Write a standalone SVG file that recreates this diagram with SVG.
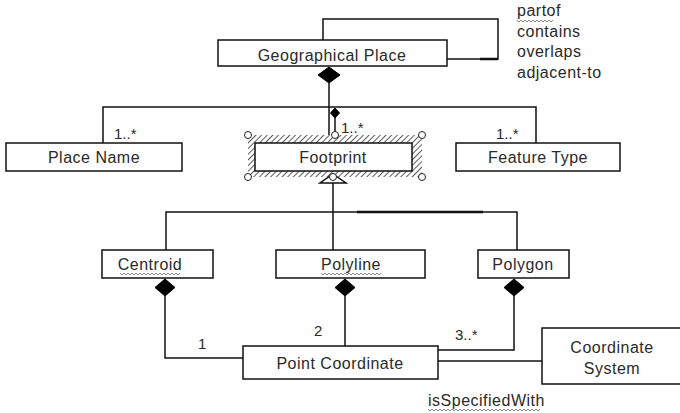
<svg xmlns="http://www.w3.org/2000/svg" width="680" height="413" viewBox="0 0 680 413">
<style>
.box{fill:#fff;stroke:#111;stroke-width:1.5}
.ln{fill:none;stroke:#111;stroke-width:1.5}
.t{font-family:"Liberation Sans",Arial,sans-serif;font-size:16px;fill:#2a2a2a;letter-spacing:0.5px}
.m{font-family:"Liberation Sans",Arial,sans-serif;font-size:15px;fill:#2a2a2a}
.d{fill:#000;stroke:#000;stroke-width:1}
.w{fill:none;stroke:#888;stroke-width:1}
.h{fill:#fff;stroke:#222;stroke-width:1}
</style>
<defs>
<pattern id="hatch" width="4" height="4" patternUnits="userSpaceOnUse" patternTransform="rotate(45)">
<rect width="4" height="4" fill="#fff"/>
<line x1="0" y1="0" x2="0" y2="4" stroke="#333" stroke-width="1.6"/>
</pattern>
</defs>
<g id="connectors">
<path class="ln" d="M323,40 V19 H498 V59 H447"/>
<path d="M480,59 H498" stroke="#111" stroke-width="2.5"/>
<path class="ln" d="M329,83 V135"/>
<path class="ln" d="M335,118 V135"/>
<path class="ln" d="M103,143 V107 H536 V143"/>
<path class="ln" d="M333,183 V250"/>
<path class="ln" d="M166,250 V212 H517 V250"/>
<path d="M357,212 H483" stroke="#111" stroke-width="2.5"/>
<path class="ln" d="M165,296 V358 H243"/>
<path class="ln" d="M345,296 V346"/>
<path class="ln" d="M514,296 V350 H438"/>
<path class="ln" d="M438,361 H542"/>
<polygon class="d" points="329,67 340,75 329,83 318,75"/>
<polygon class="d" points="335,108 339.5,113 335,118 330.5,113"/>
<polygon class="d" points="165,279 175,287.5 165,296 155,287.5"/>
<polygon class="d" points="345,279 355,287.5 345,296 335,287.5"/>
<polygon class="d" points="514,279 524,287.5 514,296 504,287.5"/>
<text class="m" x="114" y="139">1..*</text>
<text class="m" x="496" y="139">1..*</text>
<text class="m" x="198" y="349">1</text>
<text class="m" x="314" y="336">2</text>
<text class="m" x="455" y="340">3..*</text>
<text class="t" x="517" y="16">partof</text>
<path class="w" d="M517,20 l2,2 l2,-2 l2,2 l2,-2 l2,2 l2,-2 l2,2 l2,-2 l2,2 l2,-2 l2,2 l2,-2 l2,2 l2,-2 l2,2 l2,-2 l2,2 l2,-2"/>
<text class="t" x="517" y="37">contains</text>
<text class="t" x="517" y="57">overlaps</text>
<text class="t" x="517" y="78">adjacent-to</text>
<text class="t" x="428" y="406">isSpecifiedWith</text>
<path class="w" d="M428,409 l2,2 l2,-2 l2,2 l2,-2 l2,2 l2,-2 l2,2 l2,-2 l2,2 l2,-2 l2,2 l2,-2 l2,2 l2,-2 l2,2 l2,-2 l2,2 l2,-2 l2,2 l2,-2 l2,2 l2,-2 l2,2 l2,-2 l2,2 l2,-2 l2,2 l2,-2 l2,2 l2,-2 l2,2 l2,-2 l2,2 l2,-2 l2,2 l2,-2 l2,2 l2,-2 l2,2 l2,-2 l2,2 l2,-2 l2,2 l2,-2 l2,2 l2,-2 l2,2 l2,-2 l2,2 l2,-2 l2,2 l2,-2 l2,2 l2,-2 l2,2 l2,-2"/>
</g>
<g id="geographical-place">
<rect class="box" x="218" y="40" width="229" height="26"/>
<text class="t" x="332" y="61" text-anchor="middle">Geographical Place</text>
</g>
<g id="place-name">
<rect class="box" x="6" y="143" width="176" height="28"/>
<text class="t" x="94" y="163" text-anchor="middle">Place Name</text>
</g>
<g id="footprint">
<rect x="248" y="135" width="174" height="42" fill="url(#hatch)"/>
<rect class="box" x="255" y="143" width="157" height="28"/>
<text class="t" x="333" y="163" text-anchor="middle">Footprint</text>
<text class="m" x="341" y="133">1..*</text>
<circle class="h" cx="248" cy="135" r="3.5"/>
<circle class="h" cx="335" cy="135" r="3.5"/>
<circle class="h" cx="422" cy="135" r="3.5"/>
<circle class="h" cx="248" cy="177" r="3.5"/>
<circle class="h" cx="422" cy="177" r="3.5"/>
<polygon class="box" points="333,174 346,183 320,183"/>
<circle class="h" cx="333" cy="177" r="3.5"/>
</g>
<g id="feature-type">
<rect class="box" x="456" y="143" width="164" height="28"/>
<text class="t" x="538" y="163" text-anchor="middle">Feature Type</text>
</g>
<g id="centroid">
<rect class="box" x="102" y="250" width="111" height="28"/>
<text class="t" x="150" y="270" text-anchor="middle">Centroid</text>
<path class="w" d="M120,273 l2,2 l2,-2 l2,2 l2,-2 l2,2 l2,-2 l2,2 l2,-2 l2,2 l2,-2 l2,2 l2,-2 l2,2 l2,-2 l2,2 l2,-2 l2,2 l2,-2 l2,2 l2,-2 l2,2 l2,-2 l2,2 l2,-2 l2,2 l2,-2 l2,2 l2,-2 l2,2 l2,-2"/>
</g>
<g id="polyline">
<rect class="box" x="276" y="250" width="149" height="28"/>
<text class="t" x="351" y="270" text-anchor="middle">Polyline</text>
<path class="w" d="M321,273 l2,2 l2,-2 l2,2 l2,-2 l2,2 l2,-2 l2,2 l2,-2 l2,2 l2,-2 l2,2 l2,-2 l2,2 l2,-2 l2,2 l2,-2 l2,2 l2,-2 l2,2 l2,-2 l2,2 l2,-2 l2,2 l2,-2 l2,2 l2,-2 l2,2 l2,-2 l2,2 l2,-2"/>
</g>
<g id="polygon">
<rect class="box" x="478" y="250" width="91" height="28"/>
<text class="t" x="523" y="270" text-anchor="middle">Polygon</text>
</g>
<g id="point-coordinate">
<rect class="box" x="243" y="346" width="195" height="33"/>
<text class="t" x="340" y="369" text-anchor="middle">Point Coordinate</text>
</g>
<g id="coordinate-system">
<rect class="box" x="542" y="328" width="150" height="56"/>
<text class="t" x="612" y="353" text-anchor="middle">Coordinate</text>
<text class="t" x="612" y="374" text-anchor="middle">System</text>
</g>
</svg>
